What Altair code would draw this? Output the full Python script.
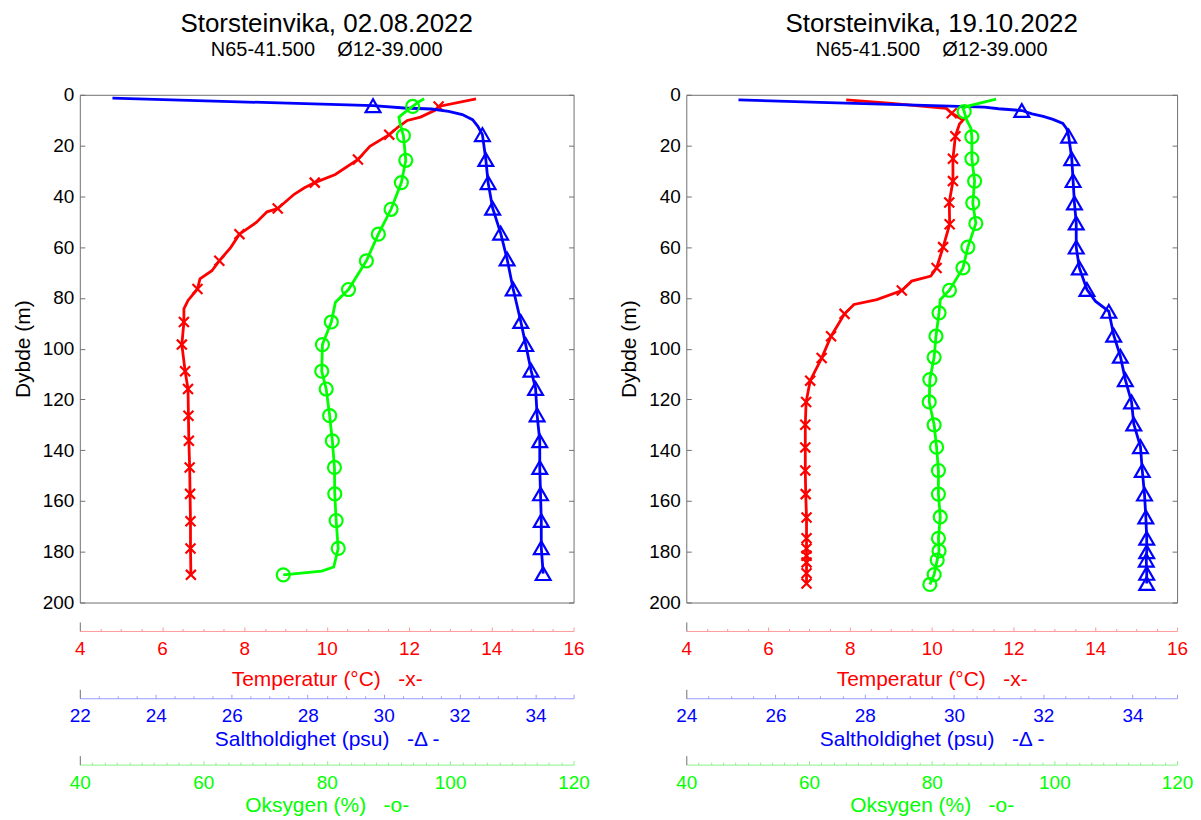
import altair as alt
import pandas as pd

# ---------------- data ----------------
# Left panel: Storsteinvika 02.08.2022
L_TEMP_DEPTH = [1.6, 4.6, 6.1, 8.8, 10.1, 12.4, 15.7, 20.3, 25.5, 31.4, 34.6, 36.6, 39.2, 44.8, 46.1,
                50.3, 54.9, 60.1, 65.4, 69.3, 72.5, 76.5, 81.0, 84.3, 89.5, 98.4, 108.9, 115.9, 126.4,
                136.3, 146.8, 157.2, 168.0, 178.7, 189.1]
L_TEMP = [13.63, 12.72, 12.63, 12.28, 11.96, 11.76, 11.52, 11.05, 10.76, 10.21, 9.71, 9.46, 9.21, 8.81,
          8.55, 8.29, 7.88, 7.67, 7.39, 7.21, 6.92, 6.86, 6.63, 6.53, 6.53, 6.48, 6.56, 6.63, 6.64, 6.65,
          6.67, 6.68, 6.69, 6.69, 6.70]
L_TEMP_MK_DEPTH = [4.6, 15.7, 25.5, 34.6, 44.8, 54.9, 65.4, 76.5, 89.5, 98.4, 108.9, 115.9, 126.4,
                   136.3, 146.8, 157.2, 168.0, 178.7, 189.1]
L_TEMP_MK = [12.72, 11.52, 10.76, 9.71, 8.81, 7.88, 7.39, 6.86, 6.53, 6.48, 6.56, 6.63, 6.64, 6.65,
             6.67, 6.68, 6.69, 6.69, 6.70]

L_SAL_DEPTH = [1.3, 4.3, 5.2, 5.6, 6.5, 7.8, 9.8, 12.4, 15.7, 25.5, 34.6, 44.7, 54.5, 64.7, 76.5, 89.3,
               98.4, 108.5, 115.7, 126.1, 136.3, 146.8, 157.2, 167.7, 178.4, 188.6]
L_SAL = [22.86, 29.72, 30.54, 31.26, 31.71, 32.07, 32.34, 32.48, 32.60, 32.69, 32.75, 32.87, 33.08,
         33.25, 33.41, 33.61, 33.74, 33.88, 34.00, 34.04, 34.11, 34.11, 34.13, 34.15, 34.15, 34.20]
L_SAL_MK_DEPTH = [4.3, 15.7, 25.5, 34.6, 44.7, 54.5, 64.7, 76.5, 89.3, 98.4, 108.5, 115.7, 126.1,
                  136.3, 146.8, 157.2, 167.7, 178.4, 188.6]
L_SAL_MK = [29.72, 32.60, 32.69, 32.75, 32.87, 33.08, 33.25, 33.41, 33.61, 33.74, 33.88, 34.00, 34.04,
            34.11, 34.11, 34.13, 34.15, 34.15, 34.20]

L_OXY_DEPTH = [1.6, 2.6, 4.6, 7.2, 8.8, 11.1, 16.1, 25.8, 34.6, 45.1, 54.9, 65.4, 76.7, 81.7, 89.5,
               98.4, 108.9, 115.9, 126.4, 136.3, 146.8, 157.2, 167.7, 178.7, 186.0, 187.6, 189.1]
L_OXY = [95.8, 95.0, 93.93, 92.5, 91.7, 91.87, 92.43, 92.82, 92.1, 90.43, 88.37, 86.43, 83.53, 81.42,
         80.75, 79.31, 79.2, 79.92, 80.48, 80.92, 81.26, 81.31, 81.53, 81.87, 81.14, 79.2, 72.97]
L_OXY_MK_DEPTH = [4.6, 16.1, 25.8, 34.6, 45.1, 54.9, 65.4, 76.7, 89.5, 98.4, 108.9, 115.9, 126.4,
                  136.3, 146.8, 157.2, 167.7, 178.7, 189.1]
L_OXY_MK = [93.93, 92.43, 92.82, 92.1, 90.43, 88.37, 86.43, 83.53, 80.75, 79.31, 79.2, 79.92, 80.48,
            80.92, 81.26, 81.31, 81.53, 81.87, 72.97]

# Right panel: Storsteinvika 19.10.2022
R_TEMP_DEPTH = [2.0, 3.3, 5.3, 7.3, 9.9, 11.5, 16.3, 25.2, 34.0, 42.4, 51.0, 60.0, 68.2, 71.4, 73.4,
                77.1, 80.7, 82.6, 86.3, 95.1, 103.7, 112.6, 121.0, 130.0, 138.9, 148.0, 157.3, 166.5,
                174.7, 178.7, 181.6, 184.2, 188.5, 192.5]
R_TEMP = [7.91, 8.95, 10.35, 10.49, 10.77, 10.68, 10.58, 10.52, 10.52, 10.43, 10.44, 10.28, 10.12,
          9.98, 9.51, 9.27, 8.66, 8.10, 7.87, 7.54, 7.31, 7.03, 6.93, 6.91, 6.91, 6.91, 6.92, 6.94,
          6.94, 6.94, 6.94, 6.94, 6.94, 6.94]
R_TEMP_MK_DEPTH = [7.3, 16.3, 25.2, 34.0, 42.4, 51.0, 60.0, 68.2, 77.1, 86.3, 95.1, 103.7, 112.6,
                   121.0, 130.0, 138.9, 148.0, 157.3, 166.5, 174.7, 178.7, 181.6, 184.2, 188.5, 192.5]
R_TEMP_MK = [10.49, 10.58, 10.52, 10.52, 10.43, 10.44, 10.28, 10.12, 9.27, 7.87, 7.54, 7.31, 7.03,
             6.93, 6.91, 6.91, 6.91, 6.92, 6.94, 6.94, 6.94, 6.94, 6.94, 6.94, 6.94]

R_SAL_DEPTH = [2.0, 3.0, 4.0, 4.9, 5.5, 6.2, 7.5, 8.5, 9.7, 11.3, 13.5, 16.3, 25.2, 33.8, 42.6, 50.5,
               60.0, 68.2, 76.7, 81.3, 85.3, 94.7, 103.0, 112.2, 121.0, 129.7, 138.6, 148.0, 157.3,
               166.3, 174.7, 180.0, 183.3, 188.5, 192.5]
R_SAL = [25.17, 26.99, 28.96, 30.68, 31.00, 31.52, 31.75, 32.00, 32.22, 32.44, 32.53, 32.57, 32.64,
         32.67, 32.70, 32.74, 32.74, 32.81, 32.98, 33.17, 33.47, 33.58, 33.73, 33.84, 33.98, 34.03,
         34.18, 34.22, 34.27, 34.30, 34.32, 34.32, 34.31, 34.32, 34.32]
R_SAL_MK_DEPTH = [6.2, 16.3, 25.2, 33.8, 42.6, 50.5, 60.0, 68.2, 76.7, 85.3, 94.7, 103.0, 112.2, 121.0,
                  129.7, 138.6, 148.0, 157.3, 166.3, 174.7, 180.0, 183.3, 188.5, 192.5]
R_SAL_MK = [31.52, 32.57, 32.64, 32.67, 32.70, 32.74, 32.74, 32.81, 32.98, 33.47, 33.58, 33.73, 33.84,
            33.98, 34.03, 34.18, 34.22, 34.27, 34.30, 34.32, 34.32, 34.31, 34.32, 34.32]

R_OXY_DEPTH = [1.7, 4.4, 5.3, 6.6, 9.9, 13.2, 16.6, 25.2, 34.0, 42.6, 50.7, 60.0, 68.2, 77.0, 80.7,
               85.9, 95.1, 103.4, 112.2, 121.0, 130.0, 138.8, 148.0, 157.3, 166.3, 174.7, 179.7, 183.3,
               189.0, 192.9]
R_OXY = [90.5, 86.05, 85.1, 85.3, 85.7, 86.4, 86.55, 86.55, 87.0, 86.7, 87.2, 85.9, 85.1, 82.9, 81.4,
         81.2, 80.7, 80.4, 79.7, 79.6, 80.4, 80.8, 81.1, 81.1, 81.4, 81.1, 81.2, 80.9, 80.4, 79.7]
R_OXY_MK_DEPTH = [6.6, 16.6, 25.2, 34.0, 42.6, 50.7, 60.0, 68.2, 77.0, 85.9, 95.1, 103.4, 112.2, 121.0,
                  130.0, 138.8, 148.0, 157.3, 166.3, 174.7, 179.7, 183.3, 189.0, 192.9]
R_OXY_MK = [85.3, 86.55, 86.55, 87.0, 86.7, 87.2, 85.9, 85.1, 82.9, 81.2, 80.7, 80.4, 79.7, 79.6,
            80.4, 80.8, 81.1, 81.1, 81.4, 81.1, 81.2, 80.9, 80.4, 79.7]

TITLES = ["Storsteinvika, 02.08.2022", "Storsteinvika, 19.10.2022"]
SUBTITLE = "N65-41.500\u00a0\u00a0\u00a0\u00a0\u00d812-39.000"
TEMP_DOMAIN = [4, 16]
SAL_DOMAINS = [[22, 35], [24, 35]]
OXY_DOMAIN = [40, 120]
DEPTH_DOMAIN = [0, 200]
DEPTH_TICKS = list(range(0, 201, 20))
TEMP_TITLE = "Temperatur (\u00b0C)\u00a0\u00a0\u00a0-x-"
SAL_TITLE = "Saltholdighet (psu)\u00a0\u00a0\u00a0-\u0394 -"
OXY_TITLE = "Oksygen (%)\u00a0\u00a0\u00a0-o-"
Y_TITLE = "Dybde (m)"

# ---------------- style ----------------
FONT = "Liberation Sans"
RED, BLUE, GREEN = "#ff0000", "#0000ff", "#00ff00"
RED_AX, BLUE_AX, GREEN_AX = "#ff9a9a", "#9a9aff", "#8ef08e"
FRAME = "#707070"
H = 509
WIDTHS = [495, 492]
X_PATH = "M-1,-1L1,1M-1,1L1,-1"


def frame(depths, values):
    return pd.DataFrame({"depth": depths, "v": values, "i": list(range(len(depths)))})


def steps(a, b, step):
    out, v = [], a
    while v <= b + 1e-9:
        out.append(round(v, 4))
        v += step
    return out


def ysc():
    return alt.Scale(domain=DEPTH_DOMAIN, reverse=True, nice=False, zero=False)


def xsc(dom):
    return alt.Scale(domain=dom, nice=False, zero=False)


def label_axis(offset, values, color, dcolor, title, title_y):
    return alt.Axis(orient="bottom", offset=offset, values=values, format="d",
                    ticks=False, tickSize=0, domain=True, domainColor=dcolor, domainWidth=1,
                    labelColor=color, labelFont=FONT, labelFontSize=19, labelPadding=8.5,
                    labelFlush=False, labelOverlap=False, grid=False,
                    title=title, titleColor=color, titleFont=FONT, titleFontSize=21,
                    titleFontWeight="normal", titleY=title_y, titleBaseline="alphabetic")


def tick_axis(offset, values, size, color):
    return alt.Axis(orient="top", offset=-(H + offset), values=values, ticks=True, tickSize=size,
                    tickColor=color, tickWidth=1, domain=False, labels=False, grid=False, title=None)


def invisible(data, x_dom, x_axis, y_axis=None):
    return alt.Chart(data).mark_point(opacity=0).encode(
        x=alt.X("v:Q", scale=xsc(x_dom), axis=x_axis),
        y=alt.Y("depth:Q", scale=ysc(), axis=y_axis),
    )


def series(line_df, mk_df, dom, color, shape, size, x_axis, y_axis=None):
    line = alt.Chart(line_df).mark_line(color=color, strokeWidth=2.8).encode(
        x=alt.X("v:Q", scale=xsc(dom), axis=x_axis),
        y=alt.Y("depth:Q", scale=ysc(), axis=y_axis),
        order=alt.Order("i:Q"),
    )
    pts = alt.Chart(mk_df).mark_point(shape=shape, size=size, color=color, strokeWidth=2.2,
                                      filled=False, opacity=1).encode(
        x=alt.X("v:Q", scale=xsc(dom), axis=None),
        y=alt.Y("depth:Q", scale=ysc(), axis=None),
    )
    return [line, pts]


def axis_ticks(data, dom, offset, major, minor, color):
    return [
        invisible(data, dom, tick_axis(offset, [dom[0]], 9, FRAME)),
        invisible(data, dom, tick_axis(offset, major, 4, color)),
        invisible(data, dom, tick_axis(offset, minor, 2.5, color)),
    ]


def panel(k, temp, temp_mk, sal, sal_mk, oxy, oxy_mk):
    W = WIDTHS[k]
    sdom = SAL_DOMAINS[k]
    y_axis = alt.Axis(orient="left", values=DEPTH_TICKS, format="d", ticks=False, domain=False,
                      labelFont=FONT, labelFontSize=19, labelColor="black", labelPadding=6,
                      labelFlush=False, labelOverlap=False, grid=False,
                      title=Y_TITLE, titleFont=FONT, titleFontSize=21, titleFontWeight="normal",
                      titleColor="black", titlePadding=9)
    t_major = steps(6, 16, 2)
    t_minor = [v for v in steps(4.5, 16, 0.5) if v % 2 != 0]
    s_major = [v for v in steps(sdom[0] + 1, 35, 1) if v % 2 == 0] + [35]
    s_minor = [v for v in steps(sdom[0] + 0.5, 35, 0.5) if v % 2 != 0 and v != 35]
    o_major = steps(60, 120, 20)
    o_minor = [v for v in steps(42, 120, 2) if v % 20 != 0]

    layers = []
    layers += series(temp, temp_mk, TEMP_DOMAIN, RED, X_PATH, 100,
                     label_axis(28.5, steps(4, 16, 2), RED, RED_AX, TEMP_TITLE, 55), y_axis)
    layers += series(sal, sal_mk, sdom, BLUE, "triangle-up", 220,
                     label_axis(96, steps(sdom[0], 34, 2), BLUE, BLUE_AX, SAL_TITLE, 47))
    layers += series(oxy, oxy_mk, OXY_DOMAIN, GREEN, "circle", 170,
                     label_axis(162.5, steps(40, 120, 20), GREEN, GREEN_AX, OXY_TITLE, 47.5))
    layers += axis_ticks(temp, TEMP_DOMAIN, 28.5, t_major, t_minor, RED_AX)
    layers += axis_ticks(sal, sdom, 96, s_major, s_minor, BLUE_AX)
    layers += axis_ticks(oxy, OXY_DOMAIN, 162.5, o_major, o_minor, GREEN_AX)
    # inward depth ticks on the left and right frame edges
    layers.append(invisible(temp, TEMP_DOMAIN, None,
                            alt.Axis(orient="right", offset=-W, values=DEPTH_TICKS, tickSize=5,
                                     tickColor=FRAME, domain=False, labels=False, grid=False, title=None)))
    layers.append(invisible(temp, TEMP_DOMAIN, None,
                            alt.Axis(orient="left", offset=-W, values=DEPTH_TICKS, tickSize=5,
                                     tickColor=FRAME, domain=False, labels=False, grid=False, title=None)))

    title = alt.TitleParams(text=TITLES[k], subtitle=SUBTITLE, font=FONT, fontSize=26,
                            fontWeight="normal", color="black", subtitleFont=FONT,
                            subtitleFontSize=20, subtitleColor="black", subtitlePadding=3,
                            anchor="middle", frame="group", offset=26)
    return (alt.layer(*layers)
            .properties(width=W, height=H, title=title)
            .resolve_scale(x="independent")
            .resolve_axis(y="independent"))


left = panel(0, frame(L_TEMP_DEPTH, L_TEMP), frame(L_TEMP_MK_DEPTH, L_TEMP_MK),
             frame(L_SAL_DEPTH, L_SAL), frame(L_SAL_MK_DEPTH, L_SAL_MK),
             frame(L_OXY_DEPTH, L_OXY), frame(L_OXY_MK_DEPTH, L_OXY_MK))
right = panel(1, frame(R_TEMP_DEPTH, R_TEMP), frame(R_TEMP_MK_DEPTH, R_TEMP_MK),
              frame(R_SAL_DEPTH, R_SAL), frame(R_SAL_MK_DEPTH, R_SAL_MK),
              frame(R_OXY_DEPTH, R_OXY), frame(R_OXY_MK_DEPTH, R_OXY_MK))

chart = (alt.hconcat(left, right, spacing=27)
         .properties(padding={"left": 11, "top": 9, "right": 7, "bottom": 1})
         .configure(background="white")
         .configure_view(stroke=FRAME, strokeWidth=1))

chart.save("out.html", embed_options={"renderer": "svg", "actions": False})
